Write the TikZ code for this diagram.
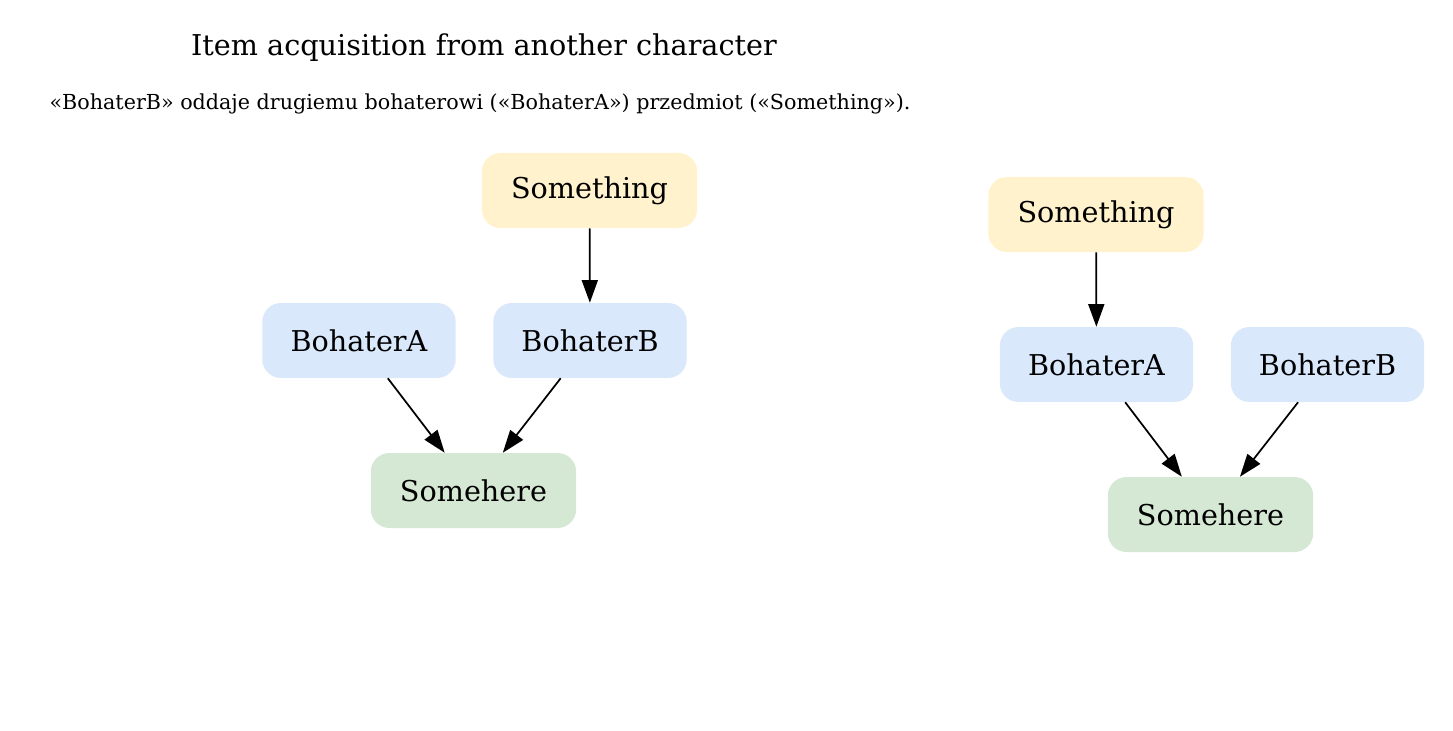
\documentclass[tikz,border=0pt]{standalone}
\usepackage{fontspec}
\setmainfont{DejaVu Serif}
\usetikzlibrary{arrows.meta}
\definecolor{itemfill}{HTML}{FFF2CC}
\definecolor{herofill}{HTML}{DAE8FC}
\definecolor{placefill}{HTML}{D5E8D4}
\tikzset{
  gbox/.style={rectangle, rounded corners=14pt, inner sep=0pt, minimum height=56.25pt,
    font=\fontsize{21.5}{25}\selectfont, text=black},
  itembox/.style={gbox, fill=itemfill, minimum width=161.5pt},
  herobox/.style={gbox, fill=herofill, minimum width=145pt},
  placebox/.style={gbox, fill=placefill, minimum width=154pt},
  conn/.style={line width=1.3pt, -{Triangle[length=17pt,width=12pt]}}
}
\begin{document}
\begin{tikzpicture}[x=0.75pt,y=-0.75pt]
\useasboundingbox[fill=white] (0,0) rectangle (1453,731);
\node[font=\fontsize{21.5}{25}\selectfont] (title) at (484,48) {Item acquisition from another character};
\node[font=\fontsize{15.5}{18}\selectfont] (sub) at (480,104) {«BohaterB» oddaje drugiemu bohaterowi («BohaterA») przedmiot («Something»).};
% left graph
\node[itembox] (ls) at (589.5,190.5) {Something};
\node[herobox] (la) at (359,340.5) {BohaterA};
\node[herobox] (lb) at (590,340.5) {BohaterB};
\node[placebox] (lp) at (473.5,490.5) {Somehere};
\draw[conn] (ls) -- (lb);
\draw[conn] (la) -- (lp);
\draw[conn] (lb) -- (lp);
% right graph
\node[itembox] (rs) at (1096,214.5) {Something};
\node[herobox] (ra) at (1096.5,364.5) {BohaterA};
\node[herobox] (rb) at (1327.5,364.5) {BohaterB};
\node[placebox] (rp) at (1210.5,514.5) {Somehere};
\draw[conn] (rs) -- (ra);
\draw[conn] (ra) -- (rp);
\draw[conn] (rb) -- (rp);
\end{tikzpicture}
\end{document}
